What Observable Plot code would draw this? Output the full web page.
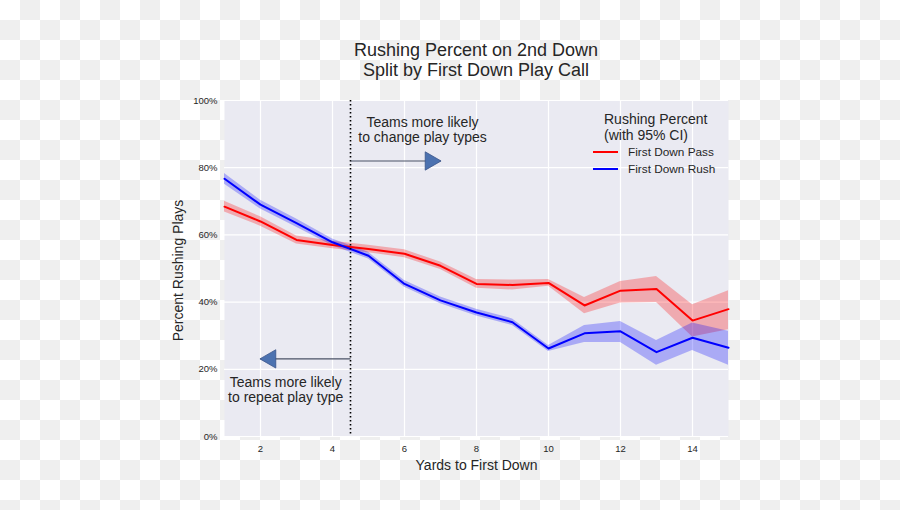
<!DOCTYPE html>
<html>
<head>
<meta charset="utf-8">
<script src="https://cdn.jsdelivr.net/npm/d3@7"></script>
<script src="https://cdn.jsdelivr.net/npm/@observablehq/plot@0.6"></script>
<style>
  html, body { margin: 0; padding: 0; }
  body {
    width: 900px; height: 510px; overflow: hidden;
    background: repeating-conic-gradient(#efefef 0 25%, #ffffff 0 50%) 0 0 / 40px 40px;
    font-family: "Liberation Sans", Arial, sans-serif;
    color: #262626;
  }
  #wrap { position: relative; width: 900px; height: 510px; }
  #chart { position: absolute; left: 0; top: 0; }
  .abs { position: absolute; white-space: nowrap; }
  .title { left: 276px; width: 400px; top: 40px; text-align: center; font-size: 18px; line-height: 20px; }
  .leghead { left: 604px; font-size: 14px; line-height: 12px; }
  .swatch { position: absolute; width: 25px; height: 0; border-top: 2px solid; }
  .leglab { font-size: 11.8px; line-height: 12px; }
</style>
</head>
<body>
<div id="wrap">
  <div id="chart"></div>
  <div class="abs title">Rushing Percent on 2nd Down<br>Split by First Down Play Call</div>
  <div class="abs leghead" style="top:113px;">Rushing Percent</div>
  <div class="abs leghead" style="top:129px;">(with 95% CI)</div>
  <div class="swatch" style="left:593px; top:151px; border-color:#ff0000;"></div>
  <div class="abs leglab" style="left:628px; top:146px;">First Down Pass</div>
  <div class="swatch" style="left:593px; top:168px; border-color:#0000ff;"></div>
  <div class="abs leglab" style="left:628px; top:163px;">First Down Rush</div>
</div>
<script>
// ---- data ----
const yards = [1, 2, 3, 4, 5, 6, 7, 8, 9, 10, 11, 12, 13, 14, 15];

const passPct = [68.4, 64.0, 58.5, 57.0, 55.8, 54.4, 50.8, 45.4, 45.1, 45.7, 39.0, 43.4, 43.9, 34.5, 37.9];
const passLo  = [66.8, 62.6, 57.3, 55.9, 54.7, 53.2, 49.7, 44.1, 43.6, 44.7, 36.5, 39.7, 39.9, 29.6, 31.8];
const passHi  = [70.0, 65.4, 59.7, 58.1, 56.9, 55.6, 51.9, 46.7, 46.6, 46.7, 41.4, 46.1, 47.6, 39.2, 43.4];

const rushPct = [76.7, 69.0, 63.5, 57.8, 53.8, 45.4, 40.5, 36.9, 34.0, 26.2, 30.7, 31.3, 25.1, 29.4, 26.4];
const rushLo  = [75.1, 67.7, 62.3, 56.8, 52.8, 44.4, 39.5, 35.9, 33.0, 25.3, 28.0, 28.0, 21.2, 25.6, 21.2];
const rushHi  = [78.3, 70.3, 64.7, 58.8, 54.8, 46.4, 41.5, 37.9, 35.0, 27.1, 33.0, 34.2, 28.6, 33.8, 31.3];

const seriesNames = ["First Down Pass", "First Down Rush"];
const seriesColors = ["#ff0000", "#0000ff"];

const xTicks = [2, 4, 6, 8, 10, 12, 14];
const yTicks = [0, 0.2, 0.4, 0.6, 0.8, 1.0];

const splitYard = 4.5;
const arrows = [
  {from: 4.5, to: 7.0, y: 0.82, dir: "right"},
  {from: 4.5, to: 2.0, y: 0.231, dir: "left"}
];
const notes = [
  {x: 6.5, y: 0.876, text: "Teams more likely\nto change play types"},
  {x: 2.7, y: 0.102, text: "Teams more likely\nto repeat play type"}
];

// ---- build table ----
const rows = [];
yards.forEach((yd, i) => {
  rows.push({yd, series: seriesNames[0], v: passPct[i] / 100, lo: passLo[i] / 100, hi: passHi[i] / 100});
  rows.push({yd, series: seriesNames[1], v: rushPct[i] / 100, lo: rushLo[i] / 100, hi: rushHi[i] / 100});
});

const colorScale = {domain: seriesNames, range: seriesColors};

const chart = Plot.plot({
  width: 900,
  height: 510,
  marginTop: 100,
  marginBottom: 74,
  marginLeft: 224,
  marginRight: 172,
  style: {background: "transparent", fontFamily: "Liberation Sans, Arial, sans-serif", color: "#262626"},
  x: {domain: [1, 15]},
  y: {domain: [0, 1]},
  color: colorScale,
  marks: [
    Plot.frame({fill: "#eaeaf2", stroke: null}),
    Plot.gridX(xTicks, {stroke: "#ffffff", strokeOpacity: 1, strokeWidth: 1.2}),
    Plot.gridY(yTicks, {stroke: "#ffffff", strokeOpacity: 1, strokeWidth: 1.2}),
    Plot.axisX(xTicks, {tickSize: 0, tickPadding: 9, fontSize: 9.5, label: null}),
    Plot.axisY(yTicks, {tickSize: 0, tickPadding: 7, fontSize: 9.5, label: null, tickFormat: d3.format(".0%")}),
    Plot.areaY(rows, {x: "yd", y1: "lo", y2: "hi", fill: "series", fillOpacity: 0.27, z: "series"}),
    Plot.lineY(rows, {x: "yd", y: "v", stroke: "series", z: "series", strokeWidth: 2}),
    Plot.ruleX([splitYard], {stroke: "#000000", strokeWidth: 1.6, strokeDasharray: "1.6,2.4"}),
    Plot.link(arrows, {x1: "from", x2: "to", y1: "y", y2: "y", stroke: "#4a5266", strokeWidth: 1.2}),
    Plot.dot(arrows.filter(a => a.dir === "right"), {x: "to", y: "y", symbol: "triangle", r: 6.8, rotate: 90, dx: -10, fill: "#4c72b0", stroke: "#3b568a", strokeWidth: 0.8}),
    Plot.dot(arrows.filter(a => a.dir === "left"), {x: "to", y: "y", symbol: "triangle", r: 6.8, rotate: -90, dx: 10, fill: "#4c72b0", stroke: "#3b568a", strokeWidth: 0.8}),
    Plot.text(notes, {x: "x", y: "y", text: "text", textAnchor: "middle", lineAnchor: "bottom", lineHeight: 1.07, fontSize: 14, fill: "#262626"}),
    Plot.text(["Yards to First Down"], {frameAnchor: "bottom", textAnchor: "middle", lineAnchor: "bottom", dy: 33, fontSize: 14, fill: "#262626"}),
    Plot.text(["Percent Rushing Plays"], {frameAnchor: "left", textAnchor: "middle", lineAnchor: "bottom", rotate: -90, dx: -42, dy: 2, fontSize: 14, fill: "#262626"})
  ]
});

document.getElementById("chart").appendChild(chart);
</script>
</body>
</html>
